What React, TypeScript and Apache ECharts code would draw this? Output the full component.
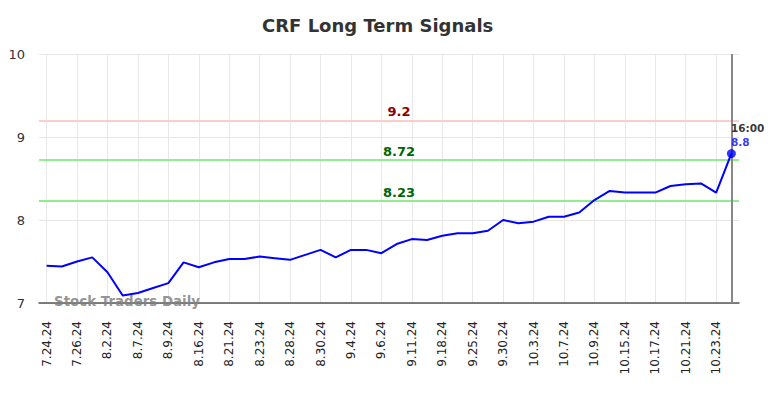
import React, { useEffect, useRef } from "react";
import * as echarts from "echarts";

const dates: string[] = [
  "7.24.24", "7.25.24", "7.26.24", "7.30.24", "8.2.24", "8.5.24", "8.7.24", "8.8.24",
  "8.9.24", "8.15.24", "8.16.24", "8.20.24", "8.21.24", "8.22.24", "8.23.24", "8.27.24",
  "8.28.24", "8.29.24", "8.30.24", "9.3.24", "9.4.24", "9.5.24", "9.6.24", "9.10.24",
  "9.11.24", "9.17.24", "9.18.24", "9.24.24", "9.25.24", "9.27.24", "9.30.24", "10.2.24",
  "10.3.24", "10.4.24", "10.7.24", "10.8.24", "10.9.24", "10.14.24", "10.15.24", "10.16.24",
  "10.17.24", "10.18.24", "10.21.24", "10.22.24", "10.23.24", "10.24.24",
];

const prices: number[] = [
  7.45, 7.44, 7.5, 7.55, 7.37, 7.09, 7.12, 7.18,
  7.24, 7.49, 7.43, 7.49, 7.53, 7.53, 7.56, 7.54,
  7.52, 7.58, 7.64, 7.55, 7.64, 7.64, 7.6, 7.71,
  7.77, 7.76, 7.81, 7.84, 7.84, 7.87, 8.0, 7.96,
  7.98, 8.04, 8.04, 8.09, 8.24, 8.35, 8.33, 8.33,
  8.33, 8.41, 8.43, 8.44, 8.33, 8.8,
];

const resistance: number[] = [9.2];
const supports: number[] = [8.72, 8.23];
const yTicks = { min: 7, max: 10, interval: 1 };
const lastTime = "16:00";
const title = "CRF Long Term Signals";
const watermark = "Stock Traders Daily";

export default function App() {
  const ref = useRef<HTMLDivElement>(null);
  useEffect(() => {
    if (!ref.current) return;
    const chart = echarts.init(ref.current, null, { renderer: "svg" });
    const lastIdx = prices.length - 1;
    const lastVal = prices[lastIdx];
    const font = "DejaVu Sans, sans-serif";
    const hLines = [
      ...resistance.map((v) => ({
        yAxis: v,
        lineStyle: { color: "#ffcccc", width: 2, type: "solid" },
        label: { color: "#8b0000" },
      })),
      ...supports.map((v) => ({
        yAxis: v,
        lineStyle: { color: "#90ee90", width: 2, type: "solid" },
        label: { color: "#006400" },
      })),
    ];
    chart.setOption({
      animation: false,
      backgroundColor: "#ffffff",
      textStyle: { fontFamily: font },
      title: {
        text: title,
        left: 257,
        top: 11,
        textStyle: { fontSize: 18, fontWeight: "bold", color: "#333333", fontFamily: font },
      },
      grid: { left: 39, right: 45, top: 54, bottom: 95, containLabel: false },
      xAxis: {
        type: "category",
        data: dates,
        boundaryGap: true,
        axisLine: { show: true, lineStyle: { color: "#555555", width: 1.5 } },
        axisTick: { show: false },
        axisLabel: {
          interval: 1,
          rotate: 90,
          fontSize: 12,
          color: "#222222",
          margin: 18,
          fontFamily: font,
        },
        splitLine: {
          show: true,
          interval: 1,
          alignWithLabel: true,
          lineStyle: { color: "#e8e8e8", width: 1 },
        },
      },
      yAxis: {
        type: "value",
        min: yTicks.min,
        max: yTicks.max,
        interval: yTicks.interval,
        axisLine: { show: false },
        axisTick: { show: false },
        axisLabel: { fontSize: 13, color: "#333333", margin: 14, fontFamily: font },
        splitLine: { show: true, lineStyle: { color: "#e6e6e6", width: 1 } },
      },
      graphic: [
        {
          type: "text",
          left: 54,
          top: 295,
          z: 100,
          style: {
            text: watermark,
            fill: "rgba(130,130,130,0.85)",
            font: "bold 13.4px DejaVu Sans, sans-serif",
          },
        },
      ],
      series: [
        {
          type: "line",
          data: prices,
          showSymbol: false,
          lineStyle: { color: "#0000ff", width: 2 },
          itemStyle: { color: "#0000ff" },
          z: 5,
          markLine: {
            silent: true,
            symbol: "none",
            label: {
              show: true,
              position: "insideMiddleTop",
              formatter: "{c}",
              fontWeight: "bold",
              fontSize: 13,
              distance: 2,
              offset: [10, 0],
              fontFamily: font,
            },
            data: [
              ...hLines,
              {
                xAxis: lastIdx,
                lineStyle: { color: "#888888", width: 2, type: "solid" },
                label: { show: false },
              },
            ],
          },
        },
        {
          type: "scatter",
          data: [[lastIdx, lastVal]],
          symbolSize: 9,
          itemStyle: { color: "#0000ff" },
          z: 10,
          label: {
            show: true,
            position: [4, -28],
            formatter: () => `{a|${lastTime}}\n{b|${lastVal}}`,
            rich: {
              a: { color: "#000000", fontWeight: "bold", fontSize: 10.5, lineHeight: 14, fontFamily: font },
              b: { color: "#0000ff", fontWeight: "bold", fontSize: 10.5, lineHeight: 14, fontFamily: font },
            },
          },
        },
      ],
    });
    return () => chart.dispose();
  }, []);
  return <div ref={ref} style={{ width: 784, height: 398, position: "absolute", left: 0, top: 0 }} />;
}
